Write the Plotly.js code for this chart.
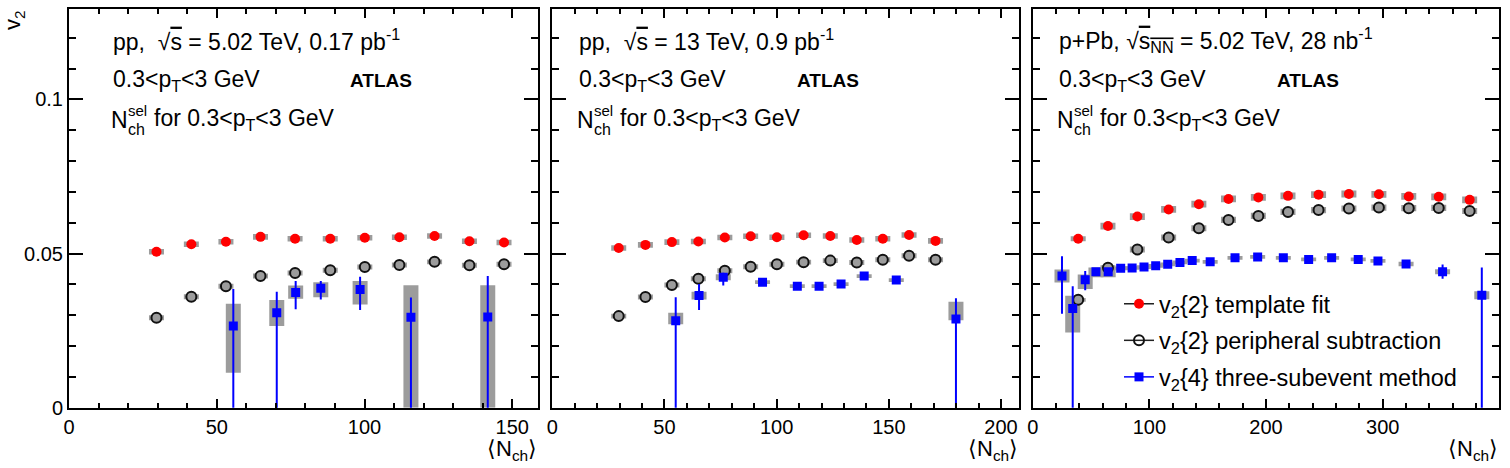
<!DOCTYPE html>
<html>
<head>
<meta charset="utf-8">
<script src="https://cdn.plot.ly/plotly-3.0.1.min.js"></script>
<style>html,body{margin:0;padding:0;background:#fff;}#chart{width:1510px;height:468px;}</style>
</head>
<body>
<div id="chart"></div>
<script>
// ---------------- DATA ----------------
// Panel 1: pp 5.02 TeV
const p1_tf_x = [29.6, 41.4, 53.1, 64.8, 76.5, 88.4, 100.1, 111.8, 123.7, 135.5, 147.2];
const p1_tf_v = [0.0506, 0.0530, 0.0538, 0.0554, 0.0548, 0.0548, 0.0551, 0.0553, 0.0557, 0.0540, 0.0536];
const p1_tf_sys = [0.0009, 0.0009, 0.0009, 0.0009, 0.0009, 0.0009, 0.0009, 0.0009, 0.0009, 0.0009, 0.0009];
const p1_ps_v = [0.0292, 0.0360, 0.0394, 0.0427, 0.0437, 0.0446, 0.0456, 0.0463, 0.0473, 0.0462, 0.0465];
const p1_ps_sys = [0.0008, 0.0008, 0.0008, 0.0008, 0.0008, 0.0008, 0.0008, 0.0008, 0.0008, 0.0008, 0.0008];
const p1_v4_x = [55.6, 70.3, 76.7, 85.2, 98.5, 115.7, 141.7];
const p1_v4_v = [0.0265, 0.0308, 0.0374, 0.0387, 0.0383, 0.0293, 0.0294];
const p1_v4_statUp = [0.0120, 0.0068, 0.0037, 0.0024, 0.0042, 0.0064, 0.0133];
const p1_v4_statDn = [0.0400, 0.0400, 0.0055, 0.0036, 0.0066, 0.0400, 0.0400];
const p1_v4_sysUp = [0.0072, 0.0041, 0.0022, 0.0020, 0.0028, 0.0104, 0.0103];
const p1_v4_sysDn = [0.0152, 0.0043, 0.0021, 0.0029, 0.0048, 0.0293, 0.0294];

// Panel 2: pp 13 TeV
const p2_tf_x = [29.6, 41.5, 53.3, 65.1, 76.9, 88.4, 100.1, 112.0, 123.9, 135.7, 147.3, 159.0, 170.8];
const p2_tf_v = [0.0518, 0.0528, 0.0537, 0.0539, 0.0552, 0.0556, 0.0553, 0.0559, 0.0557, 0.0544, 0.0548, 0.0560, 0.0541];
const p2_tf_sys = [0.0009, 0.0009, 0.0009, 0.0009, 0.0009, 0.0009, 0.0009, 0.0009, 0.0009, 0.0009, 0.0009, 0.0009, 0.0009];
const p2_ps_v = [0.0297, 0.0359, 0.0398, 0.0418, 0.0444, 0.0457, 0.0465, 0.0472, 0.0477, 0.0471, 0.0480, 0.0493, 0.0480];
const p2_ps_sys = [0.0008, 0.0008, 0.0008, 0.0008, 0.0008, 0.0008, 0.0008, 0.0008, 0.0008, 0.0008, 0.0008, 0.0008, 0.0008];
const p2_v4_x = [55.0, 65.4, 76.2, 93.7, 109.2, 118.9, 128.7, 139.0, 153.3, 179.9];
const p2_v4_v = [0.0282, 0.0364, 0.0423, 0.0407, 0.0394, 0.0394, 0.0401, 0.0427, 0.0414, 0.0288];
const p2_v4_statUp = [0.0076, 0.0037, 0.0015, 0.0007, 0.0006, 0.0006, 0.0007, 0.0008, 0.0010, 0.0067];
const p2_v4_statDn = [0.0400, 0.0047, 0.0027, 0.0007, 0.0006, 0.0006, 0.0007, 0.0008, 0.0010, 0.0400];
const p2_v4_sysUp = [0.0026, 0.0012, 0.0010, 0.0006, 0.0006, 0.0006, 0.0006, 0.0006, 0.0006, 0.0056];
const p2_v4_sysDn = [0.0011, 0.0013, 0.0010, 0.0006, 0.0006, 0.0006, 0.0006, 0.0006, 0.0006, 0.0004];

// Panel 3: p+Pb 5.02 TeV
const p3_tf_x = [39.0, 64.5, 89.7, 116.5, 142.4, 167.8, 193.4, 218.8, 245.0, 271.0, 296.7, 322.3, 348.0, 374.5];
const p3_tf_v = [0.0548, 0.0589, 0.0620, 0.0643, 0.0660, 0.0677, 0.0682, 0.0687, 0.0691, 0.0693, 0.0692, 0.0685, 0.0684, 0.0674];
const p3_tf_sys = [0.0008, 0.0011, 0.0011, 0.0011, 0.0011, 0.0011, 0.0011, 0.0011, 0.0011, 0.0011, 0.0011, 0.0011, 0.0011, 0.0011];
const p3_ps_v = [0.0350, 0.0454, 0.0513, 0.0552, 0.0582, 0.0609, 0.0622, 0.0635, 0.0641, 0.0646, 0.0649, 0.0647, 0.0648, 0.0638];
const p3_ps_sys = [0.0006, 0.0008, 0.0010, 0.0010, 0.0010, 0.0010, 0.0010, 0.0010, 0.0010, 0.0010, 0.0010, 0.0010, 0.0010, 0.0010];
const p3_v4_x = [25.1, 34.3, 45.0, 54.2, 64.7, 75.4, 85.2, 95.4, 105.4, 115.7, 126.2, 136.7, 152.1, 173.4, 192.8, 214.8, 236.5, 256.2, 279.0, 295.9, 320.0, 351.3, 384.9];
const p3_v4_v = [0.0427, 0.0322, 0.0415, 0.0441, 0.0441, 0.0452, 0.0453, 0.0456, 0.0460, 0.0465, 0.0471, 0.0477, 0.0473, 0.0486, 0.0489, 0.0486, 0.0481, 0.0486, 0.0481, 0.0476, 0.0466, 0.0441, 0.0365];
const p3_v4_statUp = [0.0064, 0.0072, 0.0028, 0.0008, 0.0006, 0.0005, 0.0005, 0.0005, 0.0005, 0.0005, 0.0005, 0.0005, 0.0005, 0.0006, 0.0006, 0.0006, 0.0006, 0.0006, 0.0006, 0.0006, 0.0008, 0.0023, 0.0090];
const p3_v4_statDn = [0.0122, 0.0500, 0.0034, 0.0008, 0.0006, 0.0005, 0.0005, 0.0005, 0.0005, 0.0005, 0.0005, 0.0005, 0.0005, 0.0006, 0.0006, 0.0006, 0.0006, 0.0006, 0.0006, 0.0006, 0.0008, 0.0023, 0.0500];
const p3_v4_sysUp = [0.0021, 0.0041, 0.0017, 0.0014, 0.0014, 0.0006, 0.0006, 0.0006, 0.0006, 0.0006, 0.0006, 0.0006, 0.0006, 0.0006, 0.0006, 0.0006, 0.0006, 0.0006, 0.0006, 0.0006, 0.0007, 0.0008, 0.0013];
const p3_v4_sysDn = [0.0021, 0.0078, 0.0030, 0.0018, 0.0018, 0.0006, 0.0006, 0.0006, 0.0006, 0.0006, 0.0006, 0.0006, 0.0006, 0.0006, 0.0006, 0.0006, 0.0006, 0.0006, 0.0006, 0.0006, 0.0007, 0.0008, 0.0013];

const seriesNames = ["v<sub>2</sub>{2} template fit", "v<sub>2</sub>{2} peripheral subtraction", "v<sub>2</sub>{4} three-subevent method"];
const panelTitles = [
  "pp,  √<span style='text-decoration:overline'>s</span> = 5.02 TeV, 0.17 pb<sup>-1</sup>",
  "pp,  √<span style='text-decoration:overline'>s</span> = 13 TeV, 0.9 pb<sup>-1</sup>",
  "p+Pb, √<span style='text-decoration:overline'>s<sub>NN</sub></span> = 5.02 TeV, 28 nb<sup>-1</sup>"
];
const xRanges = [[0, 158.8], [0, 208], [0, 399.9]];
const xDticks = [50, 50, 100];
const xMinor = [10, 10, 20];
const yRange = [0, 0.1293];

// ---------------- STYLE / LAYOUT ----------------
const FONT = "Liberation Sans, Arial, Helvetica, sans-serif";
const W = 1510, H = 468;
const px = v => v / W;
const py = v => 1 - v / H;
const xDomains = [[px(69), px(538.3)], [px(552.3), px(1019)], [px(1032.7), px(1499.3)]];
const yDomain = [py(407.7), py(9)];
const boxPx = 15; // systematic box width in pixels
const RED = "#ff0000", BLUE = "#0000ff", BOXC = "#9c9c9c";
const TXT = 23;

const panels = [
  {tfx: p1_tf_x, tfv: p1_tf_v, tfs: p1_tf_sys, psv: p1_ps_v, pss: p1_ps_sys, v4x: p1_v4_x, v4v: p1_v4_v, su: p1_v4_statUp, sd: p1_v4_statDn, yu: p1_v4_sysUp, yd: p1_v4_sysDn},
  {tfx: p2_tf_x, tfv: p2_tf_v, tfs: p2_tf_sys, psv: p2_ps_v, pss: p2_ps_sys, v4x: p2_v4_x, v4v: p2_v4_v, su: p2_v4_statUp, sd: p2_v4_statDn, yu: p2_v4_sysUp, yd: p2_v4_sysDn},
  {tfx: p3_tf_x, tfv: p3_tf_v, tfs: p3_tf_sys, psv: p3_ps_v, pss: p3_ps_sys, v4x: p3_v4_x, v4v: p3_v4_v, su: p3_v4_statUp, sd: p3_v4_statDn, yu: p3_v4_sysUp, yd: p3_v4_sysDn}
];

const traces = [];
const layout = {
  width: W, height: H,
  margin: {l: 0, r: 0, t: 0, b: 0},
  paper_bgcolor: "#fff", plot_bgcolor: "#fff",
  font: {family: FONT, size: 20, color: "#000"},
  barmode: "overlay",
  showlegend: true,
  legend: {
    x: px(1119), y: py(282), xanchor: "left", yanchor: "top",
    bgcolor: "rgba(0,0,0,0)", borderwidth: 0,
    font: {family: FONT, size: 23.5, color: "#000"},
    tracegroupgap: 3, traceorder: "grouped", itemwidth: 30
  },
  annotations: [],
  hovermode: false
};

panels.forEach((p, i) => {
  const s = i === 0 ? "" : String(i + 1);
  const xa = "x" + s, ya = "y" + s;
  const dom = xDomains[i];
  const pxPerUnit = (dom[1] - dom[0]) * W / (xRanges[i][1] - xRanges[i][0]);
  const bw = boxPx / pxPerUnit;

  // systematic boxes
  traces.push({type: "bar", xaxis: xa, yaxis: ya, x: p.tfx, base: p.tfv.map((v, k) => v - p.tfs[k]), y: p.tfs.map(e => 2 * e), width: bw,
    marker: {color: BOXC, line: {width: 0}}, showlegend: false, hoverinfo: "skip"});
  traces.push({type: "bar", xaxis: xa, yaxis: ya, x: p.tfx, base: p.psv.map((v, k) => v - p.pss[k]), y: p.pss.map(e => 2 * e), width: bw,
    marker: {color: BOXC, line: {width: 0}}, showlegend: false, hoverinfo: "skip"});
  traces.push({type: "bar", xaxis: xa, yaxis: ya, x: p.v4x, base: p.v4v.map((v, k) => v - p.yd[k]), y: p.yu.map((u, k) => u + p.yd[k]), width: bw,
    marker: {color: BOXC, line: {width: 0}}, showlegend: false, hoverinfo: "skip"});

  // points
  traces.push({type: "scatter", mode: "markers", xaxis: xa, yaxis: ya, x: p.tfx, y: p.tfv,
    marker: {symbol: "circle", size: 10, color: RED, line: {width: 0}}, showlegend: false, hoverinfo: "skip"});
  traces.push({type: "scatter", mode: "markers", xaxis: xa, yaxis: ya, x: p.tfx, y: p.psv,
    marker: {symbol: "circle", size: 10, color: BOXC, line: {width: 2, color: "#111"}}, showlegend: false, hoverinfo: "skip"});
  traces.push({type: "scatter", mode: "markers", xaxis: xa, yaxis: ya, x: p.v4x, y: p.v4v,
    error_y: {type: "data", symmetric: false, array: p.su, arrayminus: p.sd, color: BLUE, thickness: 2, width: 0},
    marker: {symbol: "square", size: 9, color: BLUE, line: {width: 0}}, showlegend: false, hoverinfo: "skip"});

  const axCommon = {
    showgrid: false, zeroline: false, showline: true, linewidth: 2, linecolor: "#000",
    mirror: "ticks", ticks: "inside", tickwidth: 2, tickcolor: "#000"
  };
  layout["xaxis" + s] = Object.assign({}, axCommon, {
    domain: dom, anchor: ya, range: xRanges[i], tickmode: "linear", tick0: 0, dtick: xDticks[i], ticklen: 9,
    minor: {tick0: 0, dtick: xMinor[i], ticks: "inside", ticklen: 5, tickwidth: 2, tickcolor: "#000"},
    tickfont: {family: FONT, size: 20, color: "#000"}, fixedrange: true
  });
  layout["yaxis" + s] = Object.assign({}, axCommon, {
    domain: yDomain, anchor: xa, range: yRange, tickmode: "linear", tick0: 0, dtick: 0.05, ticklen: 14,
    minor: {tick0: 0, dtick: 0.01, ticks: "inside", ticklen: 7, tickwidth: 2, tickcolor: "#000"},
    showticklabels: i === 0, tickfont: {family: FONT, size: 20, color: "#000"}, fixedrange: true
  });

  // x axis title (right aligned)
  layout.annotations.push({xref: "paper", yref: "paper", x: dom[1], y: py(450), xanchor: "right", yanchor: "middle",
    text: "⟨N<sub>ch</sub>⟩", showarrow: false, font: {family: FONT, size: 22}, borderpad: 0});

  // panel texts
  const tx = [111, 577, 1057][i];
  const atl = [381, 828, 1308][i];
  layout.annotations.push({xref: "paper", yref: "paper", x: px(tx), y: py(40), xanchor: "left", yanchor: "middle",
    text: panelTitles[i], showarrow: false, font: {family: FONT, size: TXT}});
  layout.annotations.push({xref: "paper", yref: "paper", x: px(tx), y: py(80), xanchor: "left", yanchor: "middle",
    text: "0.3&lt;p<sub>T</sub>&lt;3 GeV", showarrow: false, font: {family: FONT, size: TXT}});
  layout.annotations.push({xref: "paper", yref: "paper", x: px(atl), y: py(80), xanchor: "center", yanchor: "middle",
    text: "<b>ATLAS</b>", showarrow: false, font: {family: FONT, size: 19}});
  // N_ch^sel with stacked sub/superscript
  layout.annotations.push({xref: "paper", yref: "paper", x: px(tx - 1), y: py(120), xanchor: "left", yanchor: "middle",
    text: "N", showarrow: false, font: {family: FONT, size: TXT}, borderpad: 0});
  layout.annotations.push({xref: "paper", yref: "paper", x: px(tx + 16), y: py(110), xanchor: "left", yanchor: "middle",
    text: "sel", showarrow: false, font: {family: FONT, size: 15}, borderpad: 0});
  layout.annotations.push({xref: "paper", yref: "paper", x: px(tx + 16), y: py(129), xanchor: "left", yanchor: "middle",
    text: "ch", showarrow: false, font: {family: FONT, size: 16}, borderpad: 0});
  layout.annotations.push({xref: "paper", yref: "paper", x: px(tx + 42), y: py(120), xanchor: "left", yanchor: "middle",
    text: "for 0.3&lt;p<sub>T</sub>&lt;3 GeV", showarrow: false, font: {family: FONT, size: TXT}, borderpad: 0});
});

// y axis title
layout.annotations.push({xref: "paper", yref: "paper", x: px(14), y: py(20), xanchor: "center", yanchor: "middle",
  text: "v<sub>2</sub>", textangle: -90, showarrow: false, font: {family: FONT, size: 22}});

// legend entries
traces.push({type: "scatter", mode: "lines+markers", xaxis: "x3", yaxis: "y3", x: [null], y: [null], name: seriesNames[0],
  line: {color: "#222", width: 1.5}, marker: {symbol: "circle", size: 10, color: RED}, legendgroup: "a"});
traces.push({type: "scatter", mode: "lines+markers", xaxis: "x3", yaxis: "y3", x: [null], y: [null], name: seriesNames[1],
  line: {color: "#222", width: 1.5}, marker: {symbol: "circle-open", size: 10, color: "#111", line: {width: 2}}, legendgroup: "b"});
traces.push({type: "scatter", mode: "lines+markers", xaxis: "x3", yaxis: "y3", x: [null], y: [null], name: seriesNames[2],
  line: {color: BLUE, width: 1.5}, marker: {symbol: "square", size: 9, color: BLUE}, legendgroup: "c"});

Plotly.newPlot("chart", traces, layout, {staticPlot: true, displayModeBar: false});
</script>
</body>
</html>
